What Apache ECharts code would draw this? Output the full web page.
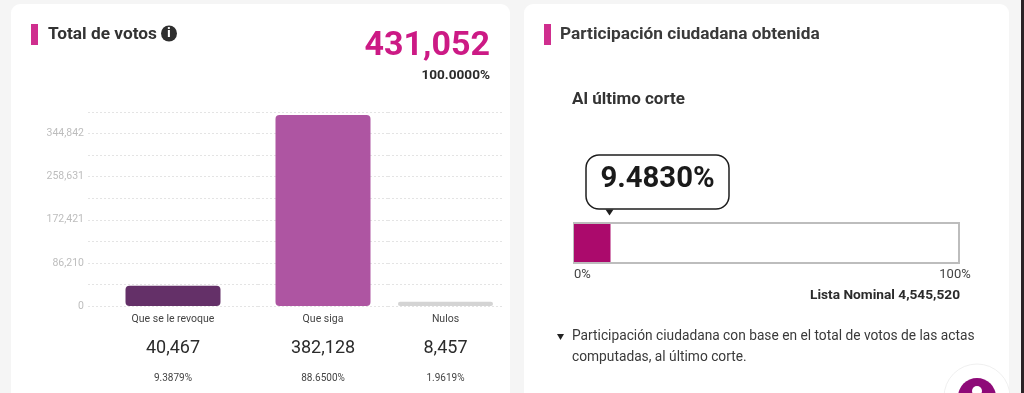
<!DOCTYPE html>
<html><head><meta charset="utf-8">
<style>html,body{margin:0;padding:0;background:#f5f5f5;overflow:hidden}#c{width:1024px;height:393px}</style>
<script src="https://cdn.jsdelivr.net/npm/echarts@6/dist/echarts.min.js"></script>
</head><body><div id="c"></div>
<script>
const categories = ['Que se le revoque', 'Que siga', 'Nulos'];
const votes = [40467, 382128, 8457];
const voteTexts = ['40,467', '382,128', '8,457'];
const percentTexts = ['9.3879%', '88.6500%', '1.9619%'];
const barColors = ['#643068', '#ae55a2', '#d4d4d4'];
const tickLabels = ['0', '86,210', '172,421', '258,631', '344,842'];
const tickStep = 43105.2;
const axisTop = 387947;
const totalText = '431,052';
const totalPct = '100.0000%';
const participation = [9.483];
const participationText = '9.4830%';
const nominalText = 'Lista Nominal 4,545,520';

const FONT = 'Roboto';
const gridBounds = [[88, 258], [258, 388], [388, 503]];
const grids = [], xAxes = [], yAxes = [], series = [];
categories.forEach((c, i) => {
  grids.push({ left: gridBounds[i][0], width: gridBounds[i][1] - gridBounds[i][0], top: 112, height: 194 });
  xAxes.push({
    type: 'category', gridIndex: i, data: [c],
    axisLine: { show: false }, axisTick: { show: false },
    axisLabel: {
      margin: 6, interval: 0, fontFamily: FONT,
      formatter: () => `{a|${c}}\n{b|${voteTexts[i]}}\n{c|${percentTexts[i]}}`,
      rich: {
        a: { fontFamily: FONT, fontSize: 10.5, color: '#444', height: 14, lineHeight: 14, align: 'center' },
        b: { fontFamily: FONT, fontSize: 18, color: '#2b2b2b', height: 42, lineHeight: 44, align: 'center' },
        c: { fontFamily: FONT, fontSize: 10, color: '#444', height: 19, lineHeight: 17, align: 'center' }
      }
    }
  });
  yAxes.push({
    type: 'value', gridIndex: i, min: 0, max: axisTop, interval: tickStep,
    axisLine: { show: false }, axisTick: { show: false },
    splitLine: { show: true, lineStyle: { type: [2, 2], color: '#e4e4e4', width: 1 } },
    axisLabel: {
      show: i === 0, margin: 4, fontFamily: FONT, fontSize: 10.5, color: '#bdbdbd',
      showMaxLabel: true, padding: [2, 0, 0, 0],
      formatter: v => {
        const k = Math.round(v / tickStep);
        return k % 2 === 0 && tickLabels[k / 2] !== undefined ? tickLabels[k / 2] : '';
      }
    }
  });
  series.push({
    type: 'bar', xAxisIndex: i, yAxisIndex: i, barWidth: 95, silent: true,
    data: [{ value: votes[i], itemStyle: { color: barColors[i], borderRadius: 4 } }]
  });
});

// participation bar
grids.push({ left: 574, width: 385, top: 223, height: 40, show: true, backgroundColor: '#fff', borderColor: '#bdbdbd', borderWidth: 2 });
xAxes.push({
  type: 'value', gridIndex: 3, min: 0, max: 100, interval: 100,
  axisLine: { show: false }, axisTick: { show: false }, splitLine: { show: false },
  axisLabel: { margin: 5, fontFamily: FONT, fontSize: 13, color: '#444', alignMinLabel: 'left', padding: [0, 8, 0, 0], formatter: '{value}%' }
});
yAxes.push({ type: 'category', gridIndex: 3, data: [''], axisLine: { show: false }, axisTick: { show: false }, axisLabel: { show: false } });
series.push({ type: 'bar', xAxisIndex: 3, yAxisIndex: 3, barWidth: 38, silent: true, data: participation, itemStyle: { color: '#ab0a6c' } });

const txt = (x, y, text, size, weight, fill, align) => ({
  type: 'text', x, y, silent: true, z: 103,
  style: { text, fontFamily: FONT, fontSize: size, fontWeight: weight, fill, align: align || 'left', verticalAlign: 'middle' }
});
const rect = (x, y, width, height, fill, r, z) => ({
  type: 'rect', silent: true, z: z || 0, shape: { x, y, width, height, r: r || 0 }, style: { fill }
});

const backing = [
  rect(11, 4, 499, 400, '#ffffff', 9, -10),
  rect(524, 4, 485, 400, '#ffffff', 9, -10),
  rect(1021, 0, 3, 393, '#2a2226', 0, -10)
];
const overlays = [
  rect(31, 24, 7, 21, '#cf2e8e', 0, 100),
  txt(48, 35, 'Total de votos', 17.3, 700, '#333'),
  { type: 'circle', silent: true, z: 100, shape: { cx: 169, cy: 33.5, r: 8 }, style: { fill: '#2e2e2e' } },
  txt(169, 34, 'i', 12, 900, '#fff', 'center'),
  txt(490, 46, totalText, 34, 700, '#cc1a85', 'right'),
  txt(490, 76, totalPct, 13.6, 700, '#2b2b2b', 'right'),
  rect(544, 24, 7, 21, '#cf2e8e', 0, 100),
  txt(560, 35, 'Participación ciudadana obtenida', 17.3, 700, '#3a3a3a'),
  txt(572, 100, 'Al último corte', 17, 700, '#333'),
  { type: 'rect', silent: true, z: 100, shape: { x: 586, y: 155, width: 143, height: 54, r: 13 }, style: { fill: '#fff', stroke: '#1e1e1e', lineWidth: 1.5 } },
  { type: 'polygon', silent: true, z: 100, shape: { points: [[605.5, 209.5], [613.5, 209.5], [609.5, 215.5]] }, style: { fill: '#1e1e1e' } },
  txt(657.5, 179.5, participationText, 29.3, 700, '#1a1a1a', 'center'),
  txt(960, 296, nominalText, 13.7, 700, '#2b2b2b', 'right'),
  { type: 'polygon', silent: true, z: 100, shape: { points: [[557, 334], [564, 334], [560.5, 340]] }, style: { fill: '#222' } },
  txt(572, 337, 'Participación ciudadana con base en el total de votos de las actas', 13.75, 400, '#3a3a3a'),
  txt(572, 358, 'computadas, al último corte.', 13.75, 400, '#3a3a3a'),
  { type: 'circle', silent: true, z: 100, shape: { cx: 977, cy: 397, r: 33 }, style: { fill: '#fff', stroke: '#f0f0f0', lineWidth: 1 } },
  { type: 'circle', silent: true, z: 101, shape: { cx: 977, cy: 397, r: 19 }, style: { fill: '#8e0a78' } },
  { type: 'circle', silent: true, z: 102, shape: { cx: 977, cy: 391, r: 5 }, style: { fill: '#fff' } }
];

const chart = echarts.init(document.getElementById('c'), null, { renderer: 'canvas' });
chart.setOption({
  animation: false,
  backgroundColor: '#f5f5f5',
  textStyle: { fontFamily: FONT },
  tooltip: { show: false },
  legend: { show: false },
  grid: grids, xAxis: xAxes, yAxis: yAxes, series,
  graphic: { elements: backing.concat(overlays) }
});
</script></body></html>
